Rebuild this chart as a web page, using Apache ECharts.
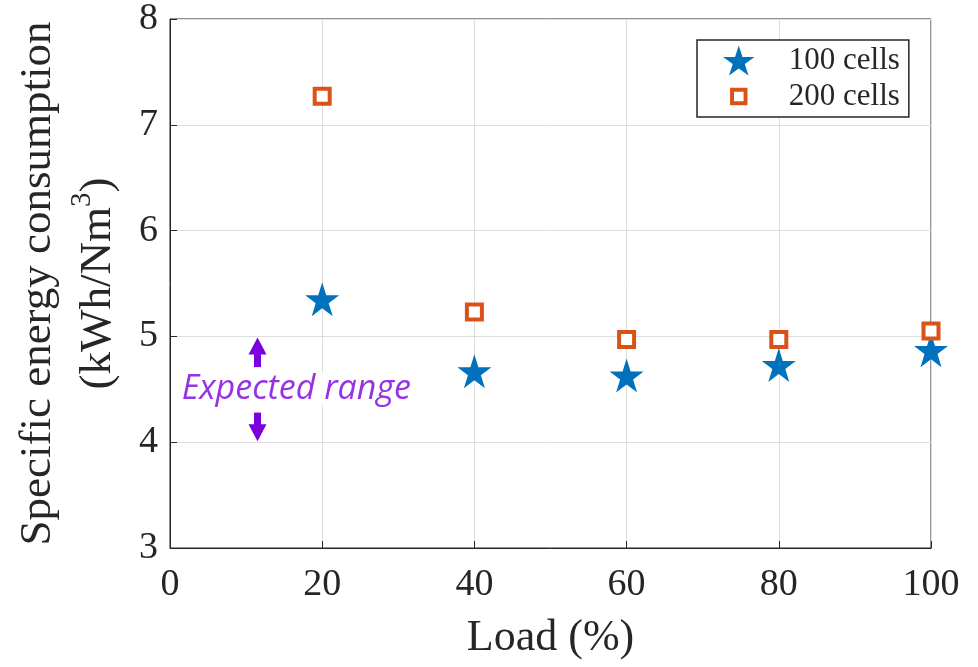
<!DOCTYPE html>
<html><head><meta charset="utf-8">
<script src="https://cdn.jsdelivr.net/npm/echarts@6/dist/echarts.min.js"></script>
<style>html,body{margin:0;padding:0;background:#fff}#c{width:978px;height:667px}</style>
</head><body><div id="c"></div>
<script>
const loads = [20, 40, 60, 80, 100];
const cells100 = [5.35, 4.67, 4.63, 4.73, 4.87];
const cells200 = [7.27, 5.23, 4.97, 4.97, 5.05];
const seriesNames = ['100 cells', '200 cells'];
const rangeX = 11.5;
const rangeLow = 4.0, rangeHigh = 5.0;
const rangeLabel = 'Expected range';

const chart = echarts.init(document.getElementById('c'));
const serif = 'Liberation Serif';
const ink = '#262626';
const purple = '#7A00DD';
const orange = '#D95319';
const starPath = 'path://M50,0 L61.8,36.2 L100,36.2 L69.1,58.6 L80.9,95.1 L50,72.7 L19.1,95.1 L30.9,58.6 L0,36.2 L38.2,36.2 Z';
const ringIcon = 'path://M0,0 L0.2,0 L0,0.2 Z M100,100 L99.8,100 L100,99.8 Z M21,21 L79,21 L79,79 L21,79 Z M34,34 L34,66 L66,66 L66,34 Z';
chart.setOption({
  animation: false,
  grid: {left: 170, right: 47, top: 19, bottom: 119, outerBoundsMode: 'none', containLabel: false,
         show: true, borderColor: ink, borderWidth: 1},
  legend: {
    left: 697, top: 40, orient: 'vertical', align: 'left',
    backgroundColor: '#fff', borderColor: ink, borderWidth: 1.5, borderRadius: 0,
    padding: [5, 9, 5, 26], itemGap: 5, itemWidth: 34, itemHeight: 30,
    textStyle: {fontFamily: serif, fontSize: 31, color: ink, padding: [0, 0, 0, 28]},
    data: [{name: seriesNames[0], icon: starPath},
           {name: seriesNames[1], icon: ringIcon, itemStyle: {color: orange, borderWidth: 0}}]
  },
  xAxis: {
    type: 'value', min: 0, max: 100, interval: 20,
    name: 'Load (%)', nameLocation: 'middle', nameGap: 68,
    nameTextStyle: {fontFamily: serif, fontSize: 44, color: ink},
    axisLine: {show: true, lineStyle: {color: ink}},
    axisTick: {show: true, inside: true, length: 7, lineStyle: {color: ink}},
    axisLabel: {fontFamily: serif, fontSize: 38, color: ink, margin: 18},
    splitLine: {show: true, lineStyle: {color: '#dedede'}}
  },
  yAxis: {
    type: 'value', min: 3, max: 8, interval: 1,
    name: '{a|Specific energy consumption}\n{a|(kWh/Nm}{s|3}{a|)}', nameLocation: 'middle', nameGap: 40,
    nameTextStyle: {fontFamily: serif, fontSize: 45, color: ink, lineHeight: 60,
      rich: {a: {fontFamily: serif, fontSize: 45, color: ink, lineHeight: 60},
             s: {fontFamily: serif, fontSize: 29, color: ink, verticalAlign: 'top', lineHeight: 60}}},
    axisLine: {show: true, lineStyle: {color: ink}},
    axisTick: {show: true, inside: true, length: 7, lineStyle: {color: ink}},
    axisLabel: {fontFamily: serif, fontSize: 38, color: ink, margin: 12},
    splitLine: {show: true, lineStyle: {color: '#dedede'}}
  },
  series: [
    {
      name: seriesNames[0], type: 'scatter', symbol: starPath,
      symbolSize: 34, itemStyle: {color: '#0072BD', opacity: 1},
      data: loads.map((x, i) => [x, cells100[i]]), z: 3,
      markLine: {
        silent: true, symbol: ['none', 'triangle'], symbolSize: [18, 17], label: {show: false},
        lineStyle: {color: purple, width: 7, type: 'solid', opacity: 1},
        data: [
          [{coord: [rangeX, rangeHigh - 0.29]}, {coord: [rangeX, rangeHigh - 0.09]}],
          [{coord: [rangeX, rangeLow + 0.28]}, {coord: [rangeX, rangeLow + 0.09]}]
        ]
      }
    },
    {
      name: seriesNames[1], type: 'scatter', symbol: 'rect', symbolSize: 15,
      itemStyle: {color: '#fff', borderColor: orange, borderWidth: 4, opacity: 1},
      data: loads.map((x, i) => [x, cells200[i]]), z: 4
    },
    {
      type: 'scatter', symbolSize: 0, silent: true,
      data: [[16.6, 4.5]],
      label: {show: true, position: 'inside', formatter: rangeLabel, fontFamily: 'Open Sans', fontStyle: 'italic',
        fontSize: 34, color: purple, backgroundColor: '#fff', padding: [0, 3]}
    }
  ]
});
</script></body></html>
